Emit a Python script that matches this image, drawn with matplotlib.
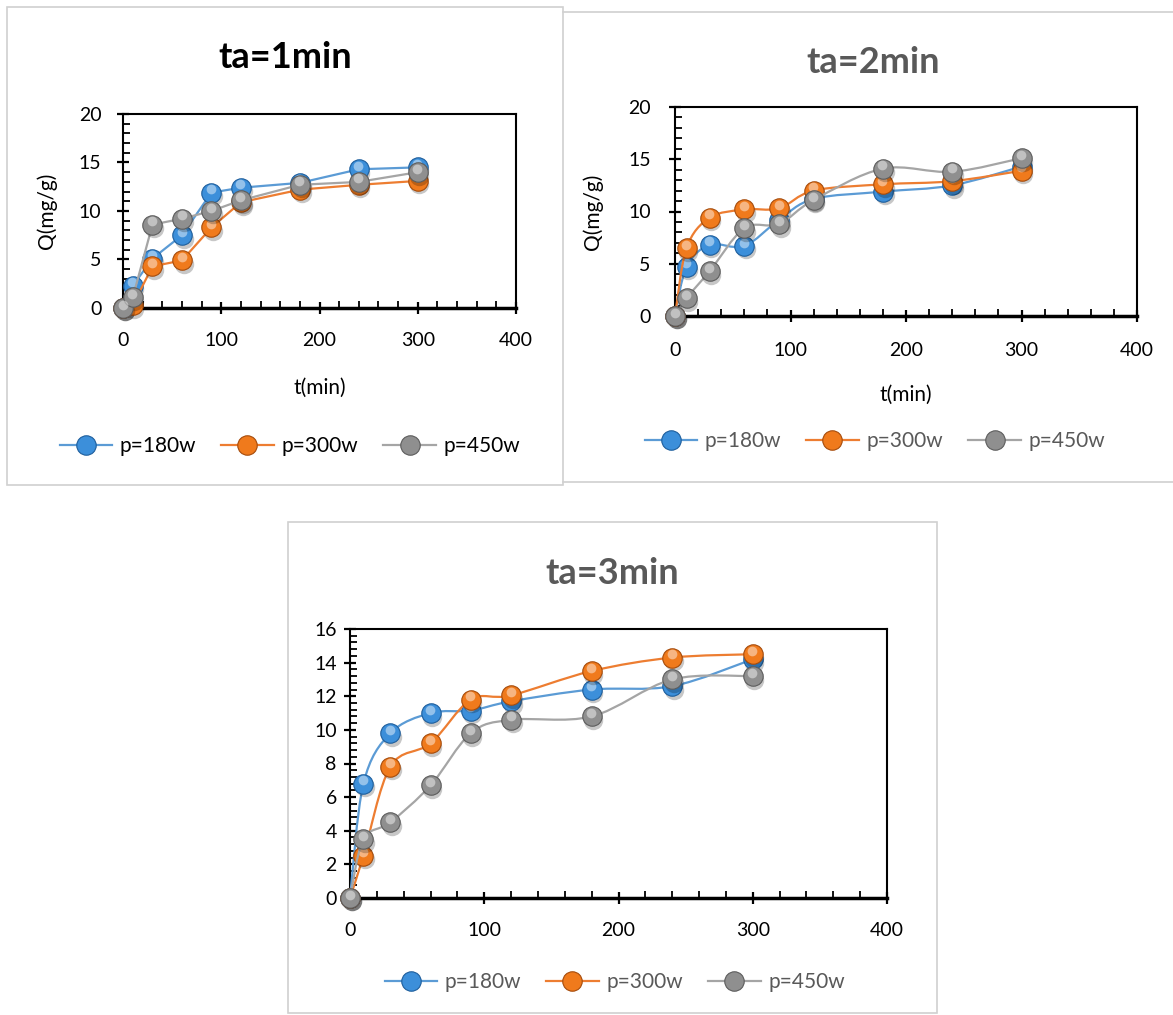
import matplotlib
matplotlib.use('Agg')
import matplotlib.pyplot as plt
import matplotlib.transforms as mtransforms
from matplotlib.path import Path
from matplotlib.patches import PathPatch, Rectangle
from matplotlib.lines import Line2D
from matplotlib.ticker import MultipleLocator

plt.rcParams['font.family'] = ['Lato', 'DejaVu Sans']

# data
t = [0, 10, 30, 60, 90, 120, 180, 240, 300]
labels = ['p=180w', 'p=300w', 'p=450w']

q1_180 = [0, 2.3, 5.1, 7.5, 11.9, 12.4, 12.9, 14.3, 14.5]
q1_300 = [0, 0.3, 4.3, 4.9, 8.3, 10.9, 12.2, 12.7, 13.1]
q1_450 = [0, 1.1, 8.6, 9.2, 10.0, 11.1, 12.7, 13.0, 14.0]

q2_180 = [0, 4.7, 6.8, 6.7, 9.2, 11.2, 11.9, 12.5, 14.3]
q2_300 = [0, 6.5, 9.4, 10.2, 10.3, 12.0, 12.6, 12.9, 13.9]
q2_450 = [0, 1.7, 4.3, 8.4, 8.8, 11.1, 14.1, 13.8, 15.1]

q3_180 = [0, 6.8, 9.8, 11.0, 11.15, 11.7, 12.4, 12.6, 14.2]
q3_300 = [0, 2.5, 7.8, 9.2, 11.8, 12.05, 13.5, 14.3, 14.5]
q3_450 = [0, 3.5, 4.5, 6.7, 9.8, 10.6, 10.8, 13.0, 13.2]

line_colors = ['#5B9BD5', '#ED7D31', '#A5A5A5']
ball_colors = ['#3C8FDA', '#F07A1C', '#8F8F8F']
ball_edges = ['#1E5E9C', '#A54B0B', '#5C5C5C']

fig = plt.figure(figsize=(11.73, 10.15), dpi=100)
W, H = 1173, 1015


def fx(px):
    return px / W


def fy(py):
    return 1 - py / H


# panel frames
fig.patches.append(Rectangle((fx(7), fy(485)), fx(556), 478 / H, transform=fig.transFigure,
                             fill=False, ec='#d0d0d0', lw=1.2))
fig.add_artist(Line2D([fx(563), 1], [fy(12), fy(12)], color='#d0d0d0', lw=1.2))
fig.add_artist(Line2D([fx(563), 1], [fy(482), fy(482)], color='#d0d0d0', lw=1.2))
fig.patches.append(Rectangle((fx(288), fy(1013)), fx(649), 491 / H, transform=fig.transFigure,
                             fill=False, ec='#d0d0d0', lw=1.2))


def smooth_path(x, y):
    pts = list(zip(x, y))
    n = len(pts)
    verts = [pts[0]]
    codes = [Path.MOVETO]
    for i in range(n - 1):
        p0 = pts[i - 1] if i > 0 else pts[i]
        p1 = pts[i]
        p2 = pts[i + 1]
        p3 = pts[i + 2] if i + 2 < n else pts[i + 1]
        c1 = (p1[0] + (p2[0] - p0[0]) / 6, p1[1] + (p2[1] - p0[1]) / 6)
        c2 = (p2[0] - (p3[0] - p1[0]) / 6, p2[1] - (p3[1] - p1[1]) / 6)
        verts += [c1, c2, p2]
        codes += [Path.CURVE4] * 3
    return Path(verts, codes)


def draw_series(ax, x, y, i, smooth, ms=14):
    z = 3 + i
    if smooth:
        ax.add_patch(PathPatch(smooth_path(x, y), fc='none', ec=line_colors[i], lw=1.6,
                               zorder=z, clip_on=False))
    else:
        ax.plot(x, y, color=line_colors[i], lw=1.6, zorder=z, clip_on=False)
    shadow = mtransforms.offset_copy(ax.transData, fig=fig, x=1.2, y=-2.5, units='points')
    ax.plot(x, y, 'o', ms=ms, color='black', alpha=0.22, mec='none', transform=shadow,
            zorder=z + 0.1, clip_on=False)
    ax.plot(x, y, 'o', ms=ms, mfc=ball_colors[i], mec=ball_edges[i], mew=0.8,
            zorder=z + 0.2, clip_on=False)
    hi = mtransforms.offset_copy(ax.transData, fig=fig, x=-0.3, y=2.5, units='points')
    ax.plot(x, y, 'o', ms=ms * 0.5, color='white', alpha=0.45, mec='none', transform=hi,
            zorder=z + 0.3, clip_on=False)


def style_axes(ax, ymax, ymajor, yminor, ypad, xpad):
    ax.set_xlim(0, 400)
    ax.set_ylim(0, ymax)
    ax.xaxis.set_major_locator(MultipleLocator(100))
    ax.xaxis.set_minor_locator(MultipleLocator(20))
    ax.yaxis.set_major_locator(MultipleLocator(ymajor))
    ax.yaxis.set_minor_locator(MultipleLocator(yminor))
    for s in ax.spines.values():
        s.set_linewidth(1.5)
    ax.spines['bottom'].set_linewidth(2.5)
    ax.tick_params(which='major', direction='inout', length=9, width=1.6, labelsize=14, colors='black')
    ax.tick_params(which='minor', direction='in', length=5, width=1.3)
    ax.tick_params(axis='y', which='major', pad=ypad)
    ax.tick_params(axis='x', which='major', pad=xpad)


def add_legend(ax, cx, cy, color, ms=14):
    handles = [Line2D([], [], color=line_colors[i], lw=1.6, marker='o', ms=ms,
                      mfc=ball_colors[i], mec=ball_edges[i], mew=0.8) for i in range(3)]
    fig.legend(handles, labels, loc='center', bbox_to_anchor=(fx(cx), fy(cy)), ncol=3,
               frameon=False, fontsize=15, labelcolor=color, handlelength=2.5,
               columnspacing=1.2, handletextpad=0.4)


# panel 1
ax1 = fig.add_axes([fx(123), fy(308), fx(393), 194 / H])
for i, q in enumerate([q1_180, q1_300, q1_450]):
    draw_series(ax1, t, q, i, smooth=False)
style_axes(ax1, 20, 5, 1, 11, 13)
ax1.set_xlabel('t(min)', fontsize=15)
ax1.xaxis.set_label_coords(0.5, (308 - 378) / 194)
ax1.set_ylabel('Q(mg/g)', fontsize=15)
ax1.yaxis.set_label_coords((57 - 123) / 393, 0.5)
fig.text(fx(285), fy(57), 'ta=1min', fontsize=26, fontweight='bold', color='black',
         ha='center', va='center')
add_legend(ax1, 290, 446, 'black')

# panel 2
ax2 = fig.add_axes([fx(675), fy(316), fx(462), 209 / H])
for i, q in enumerate([q2_180, q2_300, q2_450]):
    draw_series(ax2, t, q, i, smooth=True)
style_axes(ax2, 20, 5, 1, 13, 14)
ax2.set_xlabel('t(min)', fontsize=15)
ax2.xaxis.set_label_coords(0.5, (316 - 385) / 209)
ax2.set_ylabel('Q(mg/g)', fontsize=15)
ax2.yaxis.set_label_coords((603 - 675) / 462, 0.5)
fig.text(fx(873), fy(62), 'ta=2min', fontsize=26, fontweight='bold', color='#595959',
         ha='center', va='center')
add_legend(ax2, 875, 441, '#595959')

# panel 3
ax3 = fig.add_axes([fx(350), fy(898), fx(537), 269 / H])
for i, q in enumerate([q3_180, q3_300, q3_450]):
    draw_series(ax3, t, q, i, smooth=True)
style_axes(ax3, 16, 2, 0.4, 5, 13)
fig.text(fx(612), fy(573), 'ta=3min', fontsize=26, fontweight='bold', color='#595959',
         ha='center', va='center')
add_legend(ax3, 615, 982, '#595959')

fig.savefig('out.png', dpi=100)
